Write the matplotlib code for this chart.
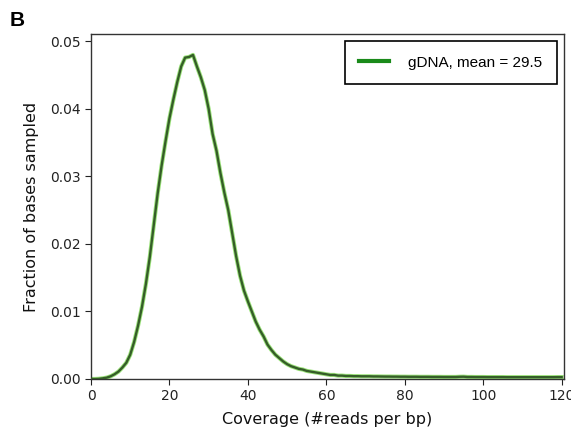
import matplotlib
matplotlib.use("Agg")
import matplotlib.pyplot as plt
from matplotlib.lines import Line2D

coverage = list(range(0, 121))
fraction_head = [0, 0, 0.00003, 0.0001, 0.0002, 0.0004, 0.0007, 0.0011, 0.0017, 0.0024,
                 0.0036, 0.0055, 0.0079, 0.0107, 0.0141, 0.0181, 0.0228, 0.0275, 0.0316, 0.0352,
                 0.0386, 0.0414, 0.0440, 0.0463, 0.0476, 0.0477, 0.0480, 0.0463, 0.0447, 0.0428,
                 0.0400, 0.0363, 0.0338, 0.0305, 0.0276, 0.0250, 0.0216, 0.0182, 0.0153, 0.0131,
                 0.0115, 0.0100, 0.0085, 0.0073, 0.0063, 0.0051, 0.0043, 0.0036, 0.0031, 0.0026,
                 0.0022, 0.0019, 0.0017, 0.0015, 0.0014, 0.0012, 0.0011, 0.0010, 0.0009, 0.0008,
                 0.0007, 0.0006, 0.0006, 0.0005, 0.0005]
fraction_tail = [0.00045, 0.00045, 0.00042, 0.00042, 0.0004, 0.0004, 0.0004, 0.00038, 0.00038, 0.00037,
                 0.00036, 0.00036, 0.00035, 0.00035, 0.00034, 0.00034, 0.00033, 0.00033, 0.00033, 0.00032,
                 0.00032, 0.00032, 0.00031, 0.00031, 0.00031, 0.0003, 0.0003, 0.0003, 0.0003, 0.00033,
                 0.00034, 0.0003, 0.0003, 0.00029, 0.00029, 0.00029, 0.00028, 0.00028, 0.00028, 0.00028,
                 0.00028, 0.00027, 0.00027, 0.00027, 0.00027, 0.00027, 0.00027, 0.00027, 0.00027, 0.00027,
                 0.00027, 0.00027, 0.00027, 0.00027, 0.00028, 0.00028]
fraction = fraction_head + fraction_tail
legend_label = "gDNA, mean = 29.5"

fig = plt.figure(figsize=(5.71, 4.28), dpi=100)
ax = fig.add_axes([91/571, 1-379/428, (564-91)/571, (379-34)/428])

ax.plot(coverage, fraction, color="#9be27a", lw=3.0, solid_joinstyle="round", zorder=2)
ax.plot(coverage, fraction, color="#355e28", lw=1.7, solid_joinstyle="round", zorder=3)

ax.set_xlim(0, 120.6)
ax.set_ylim(0, 0.0511)
ax.set_xticks([0, 20, 40, 60, 80, 100, 120])
ax.set_yticks([0, 0.01, 0.02, 0.03, 0.04, 0.05])
ax.set_yticklabels(["0.00", "0.01", "0.02", "0.03", "0.04", "0.05"])
ax.tick_params(labelsize=10, colors="#222222", length=4)
for s in ax.spines.values():
    s.set_color("#333333")
    s.set_linewidth(1.0)

ax.set_xlabel("Coverage (#reads per bp)", fontsize=11.5, color="#111111", labelpad=6)
ax.set_ylabel("Fraction of bases sampled", fontsize=11.5, color="#111111", labelpad=8)

h = Line2D([], [], color="#1a8a1a", lw=3)
leg = ax.legend([h], [legend_label], loc="upper right", fancybox=False,
                prop={"family": "Liberation Sans", "size": 11},
                borderpad=0.95, handlelength=1.9, handletextpad=1.3,
                borderaxespad=0,
                bbox_to_anchor=((557-91)/473, (379-41)/345), framealpha=1)
leg.get_frame().set_edgecolor("black")
leg.get_frame().set_linewidth(1.2)

fig.text(10/571, 1-20/428, "B", fontsize=15, fontweight="bold", family="Liberation Sans",
         va="center", ha="left")

fig.savefig("out.png", dpi=100)
